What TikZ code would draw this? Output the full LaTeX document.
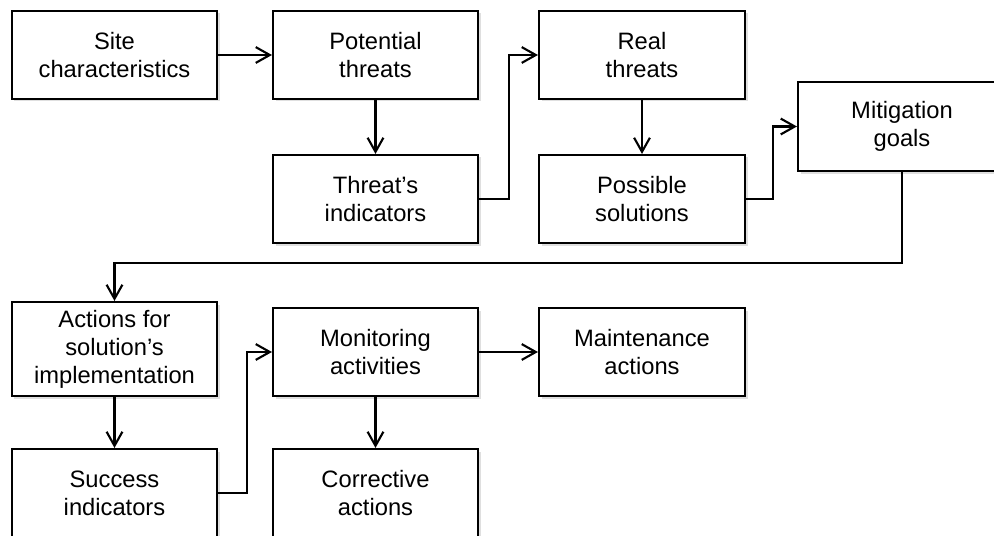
\documentclass[tikz,border=0pt]{standalone}
\usepackage{fontspec}
\setmainfont{Liberation Sans}
\usepackage{tikz}
\usetikzlibrary{arrows.meta, shadows}

\begin{document}
\begin{tikzpicture}[
    box/.style={draw, line width=1.2pt, fill=white, align=center,
        minimum width=4.1cm, minimum height=1.76cm, inner sep=0pt,
        font=\fontsize{13.5}{15.9}\selectfont,
        drop shadow={shadow xshift=0.05cm, shadow yshift=-0.05cm, opacity=0.25}},
    flow/.style={line width=1.2pt, -{Straight Barb[length=8pt,width=9pt,line width=1.2pt]}}
]
    \useasboundingbox (0,0) rectangle (19.88,10.7);

    % Threats and solutions
    \node[box] (site) at (2.29,9.6) {Site\\characteristics};
    \node[box] (potential) at (7.51,9.6) {Potential\\threats};
    \node[box, minimum width=4.12cm] (real) at (12.84,9.6) {Real\\threats};
    \node[box] (indicators) at (7.51,6.72) {Threat’s\\indicators};
    \node[box, minimum width=4.12cm] (possible) at (12.84,6.72) {Possible\\solutions};
    \node[box, minimum width=4.16cm, minimum height=1.78cm] (mitigation) at (18.04,8.17) {Mitigation\\goals};

    % Implementation and monitoring
    \node[box, minimum height=1.88cm] (actions) at (2.29,3.72) {Actions for\\solution’s\\implementation};
    \node[box] (monitoring) at (7.51,3.66) {Monitoring\\activities};
    \node[box, minimum width=4.12cm] (maintenance) at (12.84,3.66) {Maintenance\\actions};
    \node[box] (success) at (2.29,0.84) {Success\\indicators};
    \node[box] (corrective) at (7.51,0.84) {Corrective\\actions};

    % Connectors
    \draw[flow] (site) -- (potential);
    \draw[flow] (potential) -- (indicators);
    \draw[flow] (indicators.east) -- ++(0.6,0) |- (real.west);
    \draw[flow] (real) -- (possible);
    \draw[flow] (possible.east) -- ++(0.54,0) |- (mitigation.west);
    \draw[flow] (mitigation.south) -- ++(0,-1.82) -| (actions.north);
    \draw[flow] (actions) -- (success);
    \draw[flow] (success.east) -- ++(0.58,0) |- (monitoring.west);
    \draw[flow] (monitoring) -- (maintenance);
    \draw[flow] (monitoring) -- (corrective);

\end{tikzpicture}
\end{document}
